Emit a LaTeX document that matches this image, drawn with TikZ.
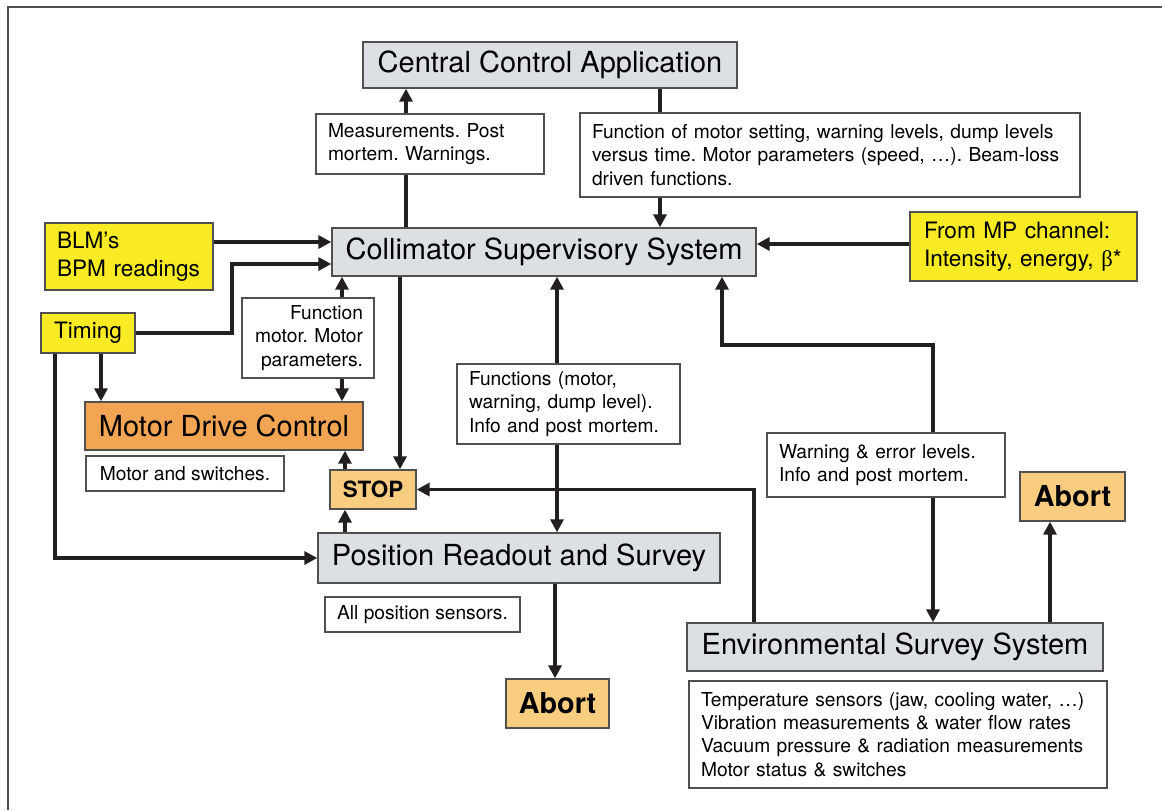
\documentclass[tikz,border=0pt]{standalone}
\usepackage{fontspec}
\setmainfont{TeX Gyre Heros}
\newfontfamily\simbolo{Liberation Serif}
\usepackage{tikz}
\usepackage{xcolor}
\usetikzlibrary{
    positioning,
    calc,
    arrows.meta
}
\definecolor{GrisCaja}{HTML}{DCDFE4}
\definecolor{Amarillo}{HTML}{F8EB24}
\definecolor{Naranja}{HTML}{F2A553}
\definecolor{NaranjaClaro}{HTML}{F9CD80}
\definecolor{Borde}{HTML}{505050}
\definecolor{Linea}{HTML}{231F20}

\tikzset{
    caja/.style={
        draw=Borde,
        line width=0.7pt,
        inner sep=0pt,
        align=center
    },
    sistema/.style={
        caja,
        fill=GrisCaja,
        font=\fontsize{14.5pt}{17.4pt}\selectfont
    },
    entrada/.style={
        caja,
        fill=Amarillo,
        font=\fontsize{11.3pt}{13.8pt}\selectfont
    },
    nota/.style={
        caja,
        fill=white,
        inner xsep=6pt,
        align=left,
        font=\fontsize{9.6pt}{11.6pt}\selectfont
    },
    alarma/.style={
        caja,
        fill=NaranjaClaro,
        font=\bfseries
    },
    enlace/.style={
        draw=Linea,
        line width=1.8pt
    },
    flujo/.style={
        enlace,
        -{Triangle[length=6.5pt,width=6.5pt]}
    }
}

\begin{document}
\frenchspacing
\begin{tikzpicture}[x=0.5pt,y=-0.5pt]
    \useasboundingbox (0,0) rectangle (1162,810);

    % marco
    \draw[Borde, line width=0.6pt] (8,810) -- (8,7) -- (1162,7);

    % sistemas
    \node[sistema, minimum width=187pt, minimum height=23pt] (CCA) at (550,65)
        {Central Control Application};
    \node[sistema, minimum width=212pt, minimum height=24pt] (CSS) at (544,252)
        {Collimator Supervisory System};
    \node[sistema, fill=Naranja, minimum width=139pt, minimum height=24pt] (MDC) at (224,426)
        {Motor Drive Control};
    \node[sistema, minimum width=201pt, minimum height=25pt] (PRS) at (519,558)
        {Position Readout and Survey};
    \node[sistema, minimum width=208pt, minimum height=24pt] (ESS) at (895,647)
        {Environmental Survey System};

    % entradas
    \node[entrada, align=left, inner xsep=6pt, text width=72pt, minimum height=33.5pt] (BLM) at (129,256.5)
        {BLM’s\\BPM readings};
    \node[entrada, align=left, inner xsep=7pt, text width=99.5pt, minimum height=34.5pt] (MP) at (1023.5,246.5)
        {From MP channel:\\Intensity, energy, {\simbolo β}*};
    \node[entrada, minimum width=47pt, minimum height=20pt] (Timing) at (88,333)
        {Timing};

    % paradas
    \node[alarma, font=\fontsize{11.2pt}{13pt}\selectfont\bfseries, minimum width=43pt, minimum height=19.5pt] (STOP) at (373,489.5)
        {STOP};
    \node[alarma, font=\fontsize{14.4pt}{17pt}\selectfont\bfseries, minimum width=52.5pt, minimum height=24.5pt] (AbortR) at (1072.5,496.5)
        {Abort};
    \node[alarma, font=\fontsize{14.4pt}{17pt}\selectfont\bfseries, minimum width=51.5pt, minimum height=24.5pt] (AbortB) at (557.5,703.5)
        {Abort};

    % notas
    \node[nota, text width=102pt, minimum height=30pt] (Meas) at (430,144)
        {Measurements. Post\\mortem. Warnings.};
    \node[nota, text width=238pt, minimum height=42pt] (Func) at (830,155)
        {Function of motor setting, warning levels, dump levels\\versus time. Motor parameters (speed, …). Beam-loss\\driven functions.};
    \node[nota, align=right, inner xsep=5.5pt, text width=55pt, minimum height=40pt] (FM) at (308,338)
        {Function\\motor. Motor\\parameters.};
    \node[nota, text width=99.5pt, minimum height=40pt] (Functions) at (568.5,404)
        {Functions (motor,\\warning, dump level).\\Info and post mortem.};
    \node[nota, align=center, inner xsep=0pt, minimum width=99pt, minimum height=17.5pt] (MS) at (185,473.5)
        {Motor and switches.};
    \node[nota, text width=107pt, minimum height=32pt] (Warning) at (886,465)
        {Warning \& error levels.\\Info and post mortem.};
    \node[nota, align=center, inner xsep=0pt, minimum width=97.5pt, minimum height=17.5pt] (APS) at (422.5,614.5)
        {All position sensors.};
    \node[nota, text width=197pt, minimum height=53.5pt] (Sensors) at (898,734.5)
        {Temperature sensors (jaw, cooling water, …)\\Vibration measurements \& water flow rates\\Vacuum pressure \& radiation measurements\\Motor status \& switches};

    % carriles
    \coordinate (xMeas) at (406,0);
    \coordinate (xFunc) at (660,0);
    \coordinate (yBlm) at (0,242);
    \coordinate (yMp) at (0,244);
    \coordinate (tmBend) at (232,264);
    \coordinate (xTimA) at (101,0);
    \coordinate (xTimB) at (55,0);
    \coordinate (xFm) at (342,0);
    \coordinate (xStop) at (400,0);
    \coordinate (xSm) at (345,0);
    \coordinate (xFn) at (557,0);
    \coordinate (xEs) at (754,0);
    \coordinate (xWarn) at (933,0);
    \coordinate (wBend) at (722,345);
    \coordinate (xAb) at (1050,0);
    \coordinate (xPa) at (555,0);

    % conexiones
    \draw[enlace] (xMeas |- CSS.north) -- (xMeas |- Meas.south);
    \draw[flujo] (xMeas |- Meas.north) -- (xMeas |- CCA.south);
    \draw[enlace] (xFunc |- CCA.south) -- (xFunc |- Func.north);
    \draw[flujo] (xFunc |- Func.south) -- (xFunc |- CSS.north);
    \draw[flujo] (BLM.east |- yBlm) -- (CSS.west |- yBlm);
    \draw[flujo] (MP.west |- yMp) -- (CSS.east |- yMp);
    \draw[flujo] (Timing.east) -| (tmBend) -- (CSS.west |- tmBend);
    \draw[flujo] (xTimA |- Timing.south) -- (xTimA |- MDC.north);
    \draw[flujo] (xTimB |- Timing.south) |- (PRS.west);
    \draw[flujo] (xFm |- FM.north) -- (xFm |- CSS.south);
    \draw[flujo] (xFm |- FM.south) -- (xFm |- MDC.north);
    \draw[flujo] (xStop |- CSS.south) -- (xStop |- STOP.north);
    \draw[flujo] (xSm |- STOP.north) -- (xSm |- MDC.south);
    \draw[flujo] (xSm |- PRS.north) -- (xSm |- STOP.south);
    \draw[flujo] (xFn |- Functions.north) -- (xFn |- CSS.south);
    \draw[flujo] (xFn |- Functions.south) -- (xFn |- PRS.north);
    \draw[flujo] (xEs |- ESS.north) |- (STOP.east);
    \draw[flujo] (xWarn |- Warning.north) |- (wBend) -- (wBend |- CSS.south);
    \draw[flujo] (xWarn |- Warning.south) -- (xWarn |- ESS.north);
    \draw[flujo] (xAb |- ESS.north) -- (xAb |- AbortR.south);
    \draw[flujo] (xPa |- PRS.south) -- (xPa |- AbortB.north);
\end{tikzpicture}
\end{document}
